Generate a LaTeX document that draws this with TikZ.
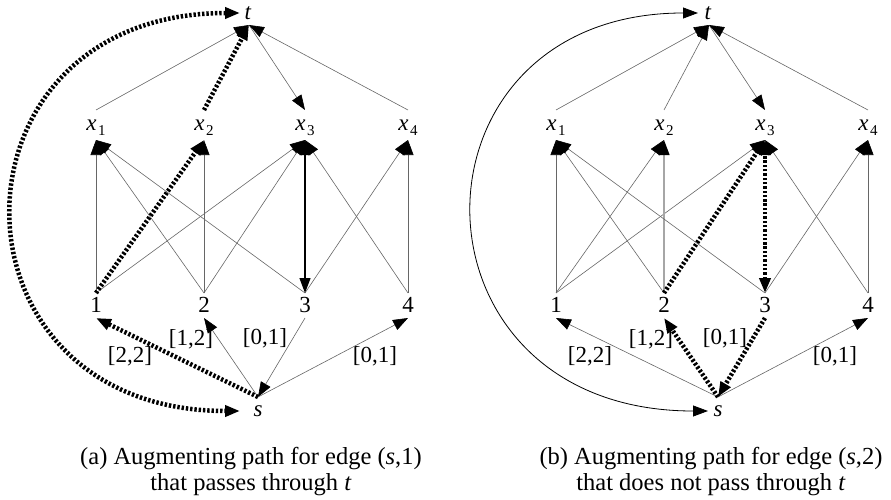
\documentclass[tikz,border=0pt]{standalone}
\usepackage{fontspec}
\setmainfont{Liberation Serif}
\usetikzlibrary{arrows.meta}
\newcommand{\xsub}[1]{\textit{x}\kern1.5pt\raisebox{-5pt}{\fontsize{15}{15}\selectfont #1}}
\newcommand{\placenodes}{%
  \node[lbl] (tl) at (248,13) {\textit{t}};
  \coordinate (tp) at (249,25);
  \foreach \i/\X in {1/96,2/204,3/305,4/408}{
    \node[lbl] (xl\i) at (\X,128) {\xsub{\i}};
    \coordinate (xt\i) at (\X,110);
    \coordinate (xb\i) at (\X,140);
    \node[lbl] (nl\i) at (\X,305) {\i};
    \coordinate (nt\i) at (\X,293);
    \coordinate (nb\i) at (\X,318);
  }
  \coordinate (sp) at (258,397);
  \node[lbl] (sl) at (258,411) {\textit{s}};
  \node[lbl] (w1) at (130,356) {[2,2]};
  \node[lbl] (w2) at (191,339) {[1,2]};
  \node[lbl] (w3) at (265,338) {[0,1]};
  \node[lbl] (w4) at (375,356) {[0,1]};
}
\begin{document}
\begin{tikzpicture}[x=1pt,y=-1pt,
  lbl/.style={font=\fontsize{23}{27}\selectfont, inner sep=0pt},
  thinedge/.style={draw=black!60, line width=0.6pt},
  arr/.style={-{Triangle[length=15pt,width=11pt,color=black,fill=black]}},
  arrs/.style={{Triangle[length=15pt,width=11pt,color=black,fill=black]}-{Triangle[length=15pt,width=11pt,color=black,fill=black]}},
  dots/.style={draw=black, line width=4.5pt, dash pattern=on 2.4pt off 1.9pt},
  boldedge/.style={draw=black, line width=1.2pt},
  greyedge/.style={draw=black!35, line width=1.3pt},
  captxt/.style={font=\fontsize{24.5}{28}\selectfont, inner sep=0pt}]
\useasboundingbox (0,0) rectangle (891,500);
% ---------------- panel (a)
\begin{scope}[name prefix=a-]
  \placenodes
  \coordinate (cT) at (240,13);
  \coordinate (cB) at (240,411);
  % top layer
  \draw[thinedge,arr] (xt1) -- (tp);
  \draw[dots,arr] (xt2) -- (tp);
  \draw[thinedge,arr] (tp) -- (xt3);
  \draw[thinedge,arr] (xt4) -- (tp);
  % middle layer
  \draw[thinedge,arr] (nt1) -- (xb1);
  \draw[thinedge,arr] (nt1) -- (xb3);
  \draw[thinedge,arr] (nt2) -- (xb1);
  \draw[thinedge,arr] (nt2) -- (xb2);
  \draw[thinedge,arr] (nt2) -- (xb3);
  \draw[thinedge,arr] (nt3) -- (xb1);
  \draw[thinedge,arr] (nt3) -- (xb4);
  \draw[thinedge,arr] (nt4) -- (xb3);
  \draw[thinedge,arr] (nt4) -- (xb4);
  \draw[boldedge,arrs] (nt3) -- (xb3);
  \draw[dots,arr] (nt1) -- (xb2);
  % bottom layer
  \draw[thinedge,arr] (sp) -- (nb2);
  \draw[thinedge,arr] (nb3) -- (sp);
  \draw[thinedge,arr] (sp) -- (nb4);
  \draw[dots,arr] (sp) -- (nb1);
  % return arc
  \draw[dots,arrs] (cT) .. controls (-63,13) and (-63,411) .. (cB);
  \node[captxt] (capa1) at (251,459) {(a) Augmenting path for edge (\textit{s},1)};
  \node[captxt] (capa2) at (251,485) {that passes through \textit{t}};
\end{scope}
% ---------------- panel (b)
\begin{scope}[xshift=460pt, name prefix=b-]
  \placenodes
  \coordinate (cT) at (238,13);
  \coordinate (cB) at (248,411);
  % top layer
  \draw[thinedge,arr] (xt1) -- (tp);
  \draw[thinedge,arr] (xt2) -- (tp);
  \draw[thinedge,arr] (tp) -- (xt3);
  \draw[thinedge,arr] (xt4) -- (tp);
  % middle layer
  \draw[thinedge,arr] (nt1) -- (xb1);
  \draw[thinedge,arr] (nt1) -- (xb2);
  \draw[thinedge,arr] (nt1) -- (xb3);
  \draw[thinedge,arr] (nt2) -- (xb1);
  \draw[greyedge,arr] (nt2) -- (xb2);
  \draw[thinedge,arr] (nt3) -- (xb1);
  \draw[thinedge,arr] (nt3) -- (xb4);
  \draw[thinedge,arr] (nt4) -- (xb3);
  \draw[thinedge,arr] (nt4) -- (xb4);
  \draw[dots,arr] (nt2) -- (xb3);
  \draw[dots,arrs] (nt3) -- (xb3);
  % bottom layer
  \draw[thinedge,arr] (sp) -- (nb1);
  \draw[thinedge,arr] (sp) -- (nb4);
  \draw[dots,arr] (sp) -- (nb2);
  \draw[dots,arr] (nb3) -- (sp);
  % return arc
  \draw[draw=black, line width=0.8pt, arrs] (cT) .. controls (-63,13) and (-63,411) .. (cB);
  \node[captxt] (capb1) at (251,459) {(b) Augmenting path for edge (\textit{s},2)};
  \node[captxt] (capb2) at (251,485) {that does not pass through \textit{t}};
\end{scope}
\end{tikzpicture}
\end{document}
